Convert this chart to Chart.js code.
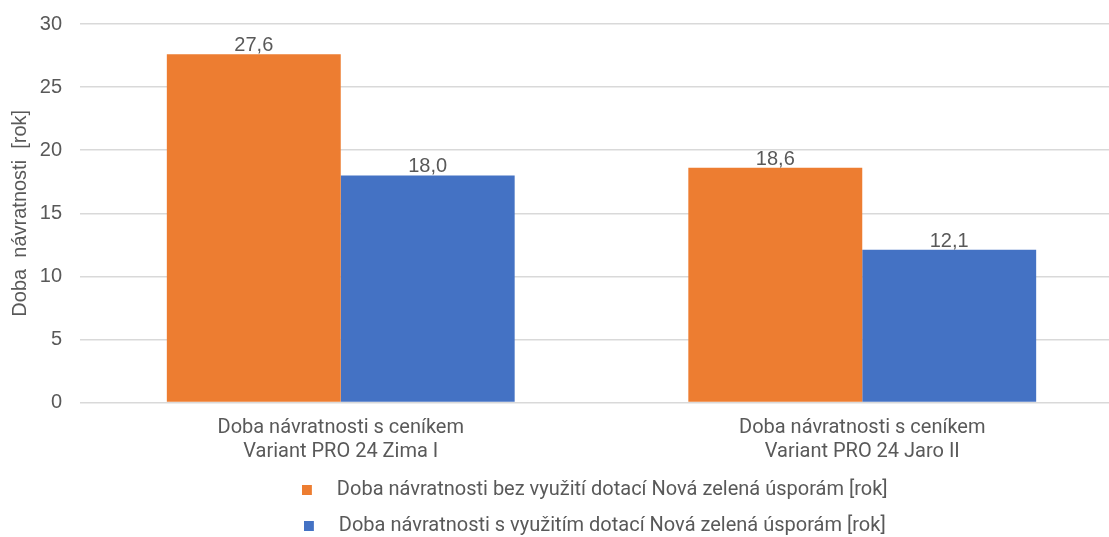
<!DOCTYPE html>
<html lang="cs">
<head>
<meta charset="utf-8">
<title>Doba návratnosti</title>
<script src="https://cdn.jsdelivr.net/npm/chart.js@4/dist/chart.umd.min.js"></script>
<style>
  html, body { margin: 0; padding: 0; background: #ffffff; overflow: hidden; }
  #wrap { position: relative; width: 1123px; height: 537px; }
</style>
</head>
<body>
<div id="wrap"><canvas id="chart" width="1123" height="537"></canvas></div>
<script>
// Price-list variants compared on the x axis
const categories = [
  ['Doba návratnosti s ceníkem', 'Variant PRO 24 Zima I'],
  ['Doba návratnosti s ceníkem', 'Variant PRO 24 Jaro II']
];
// Payback period in years
const withoutSubsidy = [27.6, 18.6];
const withSubsidy = [18.0, 12.1];
const seriesNames = [
  'Doba návratnosti bez využití dotací Nová zelená úsporám [rok]',
  'Doba návratnosti s využitím dotací Nová zelená úsporám [rok]'
];
const yTicks = [0, 5, 10, 15, 20, 25, 30];
const yTitle = 'Doba  návratnosti  [rok]';

const TEXT = '#595959';
const LABEL_FONT = '"Roboto", "Liberation Sans", sans-serif';
const NUM_FONT = '"Liberation Sans", "Roboto", sans-serif';

// Small square legend swatch, set at the left of a wider transparent strip
function swatch(color) {
  const c = document.createElement('canvas');
  c.width = 30;
  c.height = 10;
  const g = c.getContext('2d');
  g.fillStyle = color;
  g.fillRect(0, 0, 10, 10);
  return c;
}

// Value labels written above each bar, decimal comma
const valueLabels = {
  id: 'valueLabels',
  afterDatasetsDraw(chart) {
    const ctx = chart.ctx;
    ctx.save();
    ctx.font = '20px ' + NUM_FONT;
    ctx.fillStyle = TEXT;
    ctx.textAlign = 'center';
    ctx.textBaseline = 'alphabetic';
    chart.data.datasets.forEach((ds, i) => {
      chart.getDatasetMeta(i).data.forEach((bar, j) => {
        const txt = ds.data[j].toFixed(1).replace('.', ',');
        ctx.fillText(txt, bar.x, bar.y - 3);
      });
    });
    ctx.restore();
  }
};

// Nudges the legend block to its place below the axis labels
const legendShift = {
  id: 'legendShift',
  afterLayout(chart, args, opts) {
    const lg = chart.legend;
    if (!lg) return;
    lg.left += opts.dx; lg.right += opts.dx;
    lg.top += opts.dy; lg.bottom += opts.dy;
  }
};

new Chart(document.getElementById('chart'), {
  type: 'bar',
  data: {
    labels: categories,
    datasets: [
      { label: seriesNames[0], data: withoutSubsidy, backgroundColor: '#ED7D31' },
      { label: seriesNames[1], data: withSubsidy, backgroundColor: '#4472C4' }
    ]
  },
  options: {
    responsive: false,
    animation: false,
    categoryPercentage: 0.667,
    barPercentage: 1.0,
    layout: { padding: { top: 24, bottom: -12.5, left: 0, right: 0 } },
    scales: {
      x: {
        afterFit(scale) { scale.height = 66; },
        grid: { display: false },
        border: { display: false },
        ticks: {
          color: TEXT,
          font: { family: LABEL_FONT, size: 20, lineHeight: 1.2 },
          padding: 5,
          maxRotation: 0
        }
      },
      y: {
        min: 0,
        max: 30,
        afterBuildTicks(scale) { scale.ticks = yTicks.map(v => ({ value: v })); },
        afterFit(scale) {
          scale.width = 80;
          scale.paddingTop = 0;
          scale.paddingBottom = 0;
        },
        grid: { color: '#d9d9d9', lineWidth: 1.5, drawTicks: false },
        border: { display: false },
        ticks: {
          color: TEXT,
          font: { family: NUM_FONT, size: 20 },
          padding: 18
        },
        title: {
          display: true,
          text: yTitle,
          color: TEXT,
          font: { family: NUM_FONT, size: 20 },
          padding: { top: 8, bottom: 0 }
        }
      }
    },
    plugins: {
      legend: {
        position: 'bottom',
        labels: {
          color: TEXT,
          font: { family: LABEL_FONT, size: 20 },
          usePointStyle: true,
          boxWidth: 20,
          boxHeight: 20,
          padding: 15.5,
          generateLabels(chart) {
            const items = Chart.defaults.plugins.legend.labels.generateLabels(chart);
            items.forEach(it => { it.pointStyle = swatch(it.fillStyle); });
            return items;
          }
        }
      },
      legendShift: { dx: 35.75, dy: -4 },
      tooltip: { enabled: false }
    }
  },
  plugins: [valueLabels, legendShift]
});
</script>
</body>
</html>
